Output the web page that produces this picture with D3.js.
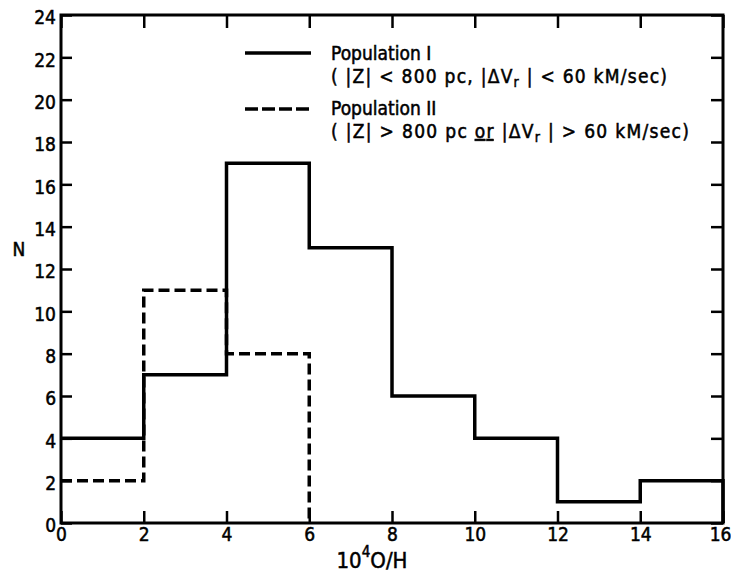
<!DOCTYPE html>
<html>
<head>
<meta charset="utf-8">
<script src="https://cdnjs.cloudflare.com/ajax/libs/d3/7.8.5/d3.min.js"></script>
<style>
    body { margin: 0; background: #fff; }
    svg text { font-family: 'DejaVu Sans Condensed', 'DejaVu Sans', sans-serif; font-stretch: condensed; fill: #000; stroke: #000; stroke-width: 0.5px; }
</style>
</head>
<body>
<div id="viz"></div>
<script>
// Datos del histograma
let bordes = [0, 2, 4, 6, 8, 10, 12, 14, 16];
let poblacionI = [4, 7, 17, 13, 6, 4, 1, 2];
let poblacionII = [2, 11, 8];
let ticksX = [0, 2, 4, 6, 8, 10, 12, 14, 16];
let ticksY = [0, 2, 4, 6, 8, 10, 12, 14, 16, 18, 20, 22, 24];

// Dimensiones
let w = 731;
let h = 574;
let margen = {izq: 61, der: 8, sup: 15, inf: 51};

let svg = d3.select('#viz')
    .append('svg')
        .attr('width', w)
        .attr('height', h);

// Escalas
let x = d3.scaleLinear()
    .domain([0, 16])
    .range([margen.izq, w - margen.der]);

let y = d3.scaleLinear()
    .domain([0, 24])
    .range([h - margen.inf, margen.sup]);

// Convierte los conteos en puntos de escalera
function puntosEscalera(valores) {
    let pts = [];
    valores.forEach(function(v, i) {
        pts.push([bordes[i], v]);
        pts.push([bordes[i + 1], v]);
    });
    pts.push([bordes[valores.length], 0]);
    return pts;
}

let linea = d3.line()
    .x(d => x(d[0]))
    .y(d => y(d[1]));

// Ejes con ticks hacia adentro
svg.append('g')
    .attr('transform', `translate(${x(0)},0)`)
    .call(d3.axisLeft(y).tickValues(ticksY).tickSizeInner(-11).tickSizeOuter(0).tickPadding(5))
    .call(g => g.select('.domain').remove())
    .call(g => g.selectAll('line').attr('stroke-width', 2.5))
    .call(g => g.selectAll('text').attr('font-size', 19).attr('dy', '0.46em'));

svg.append('g')
    .attr('transform', `translate(${x(16)},0)`)
    .call(d3.axisRight(y).tickValues(ticksY).tickSizeInner(-12).tickSizeOuter(0).tickFormat(''))
    .call(g => g.select('.domain').remove())
    .call(g => g.selectAll('line').attr('stroke-width', 2.5));

svg.append('g')
    .attr('transform', `translate(0,${y(0)})`)
    .call(d3.axisBottom(x).tickValues(ticksX).tickSizeInner(-12).tickSizeOuter(0).tickPadding(5))
    .call(g => g.select('.domain').remove())
    .call(g => g.selectAll('line').attr('stroke-width', 2.5))
    .call(g => g.selectAll('text').attr('font-size', 19))
    // la última etiqueta queda pegada al borde derecho
    .call(g => g.selectAll('text').filter(d => d == 16).attr('text-anchor', 'end').attr('x', 8));

svg.append('g')
    .attr('transform', `translate(0,${y(24)})`)
    .call(d3.axisTop(x).tickValues(ticksX).tickSizeInner(-13).tickSizeOuter(0).tickFormat(''))
    .call(g => g.select('.domain').remove())
    .call(g => g.selectAll('line').attr('stroke-width', 2.5));

// Marco del gráfico
svg.append('rect')
    .attr('x', x(0))
    .attr('y', y(24))
    .attr('width', x(16) - x(0))
    .attr('height', y(0) - y(24))
    .attr('fill', 'none')
    .attr('stroke', '#000')
    .attr('stroke-width', 3);

// Histogramas
svg.append('path')
    .datum(puntosEscalera(poblacionI))
    .attr('d', linea)
    .attr('fill', 'none')
    .attr('stroke', '#000')
    .attr('stroke-width', 3.5);

svg.append('path')
    .datum(puntosEscalera(poblacionII))
    .attr('d', linea)
    .attr('fill', 'none')
    .attr('stroke', '#000')
    .attr('stroke-width', 3.5)
    .attr('stroke-dasharray', '11,5');

// Leyenda
svg.append('line')
    .attr('x1', 245).attr('x2', 311)
    .attr('y1', 53).attr('y2', 53)
    .attr('stroke', '#000')
    .attr('stroke-width', 3.5);

svg.append('line')
    .attr('x1', 245).attr('x2', 311)
    .attr('y1', 109).attr('y2', 109)
    .attr('stroke', '#000')
    .attr('stroke-width', 3.5)
    .attr('stroke-dasharray', '13,4');

let leyenda = svg.append('g').attr('font-size', 19);

leyenda.append('text').attr('x', 331).attr('y', 60).text('Population I');

let l2 = leyenda.append('text').attr('x', 331).attr('y', 83)
    .attr('textLength', 336).attr('lengthAdjust', 'spacing');
l2.append('tspan').text('( |Z| < 800 pc, |ΔV');
l2.append('tspan').attr('font-size', 14).attr('dy', 4).text('r');
l2.append('tspan').attr('dy', -4).text(' | < 60 kM/sec)');

leyenda.append('text').attr('x', 331).attr('y', 115).text('Population II');

let l4 = leyenda.append('text').attr('x', 331).attr('y', 138)
    .attr('textLength', 358).attr('lengthAdjust', 'spacing');
l4.append('tspan').text('( |Z| > 800 pc ');
l4.append('tspan').style('text-decoration', 'underline').text('or');
l4.append('tspan').text(' |ΔV');
l4.append('tspan').attr('font-size', 14).attr('dy', 4).text('r');
l4.append('tspan').attr('dy', -4).text(' | > 60 kM/sec)');

// Etiquetas de los ejes
svg.append('text')
    .attr('x', 19)
    .attr('y', 256)
    .attr('text-anchor', 'middle')
    .attr('font-size', 19)
    .text('N');

let etiquetaX = svg.append('text')
    .attr('x', 372)
    .attr('y', 568)
    .attr('text-anchor', 'middle')
    .attr('font-size', 22);
etiquetaX.append('tspan').text('10');
etiquetaX.append('tspan').attr('font-size', 15).attr('dy', -11).text('4');
etiquetaX.append('tspan').attr('dy', 11).text('O/H');
</script>
</body>
</html>
